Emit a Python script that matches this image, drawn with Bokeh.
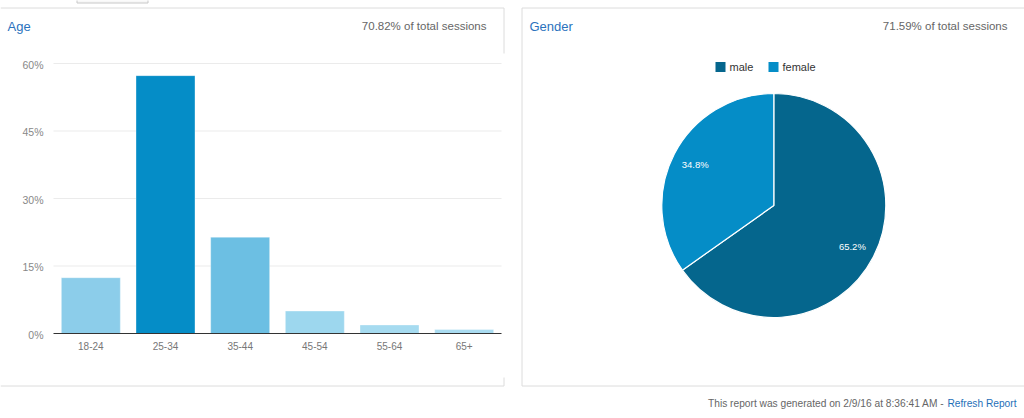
import numpy as np
from bokeh.plotting import figure
from bokeh.models import Range1d, ColumnDataSource
from bokeh.core.properties import value
from bokeh.embed import file_html
from bokeh.resources import INLINE

# ---------------- data ----------------
age_groups = ["18-24", "25-34", "35-44", "45-54", "55-64", "65+"]
age_share = [12.4, 57.3, 21.4, 5.0, 1.9, 0.9]
age_colors = ["#8ccdea", "#058dc7", "#6cbfe3", "#9dd7ee", "#a6dbf0", "#aadcf1"]
age_ticks = [0, 15, 30, 45, 60]
age_tick_labels = ["0%", "15%", "30%", "45%", "60%"]

gender_groups = ["male", "female"]
gender_share = [65.2, 34.8]
gender_labels = ["65.2%", "34.8%"]
gender_colors = ["#05668d", "#058dc7"]

age_title = "Age"
gender_title = "Gender"
age_sessions = "70.82% of total sessions"
gender_sessions = "71.59% of total sessions"
footer_text = "This report was generated on 2/9/16 at 8:36:41 AM - "
footer_link = "Refresh Report"

# ---------------- canvas ----------------
W, H = 1024, 418
FONT = value("Liberation Sans")

p = figure(width=W, height=H, x_range=Range1d(0, W), y_range=Range1d(H, 0),
           min_border=0, toolbar_location=None, output_backend="svg",
           x_axis_location=None, y_axis_location=None)
p.grid.visible = False
p.outline_line_color = None
p.background_fill_color = "white"
p.border_fill_color = "white"

# plot-area geometry of the age chart (pixels)
A_LEFT, A_RIGHT, A_Y0, A_Y60 = 53, 501, 333, 63
k = (A_Y0 - A_Y60) / 60.0
band = (A_RIGHT - A_LEFT) / len(age_groups)
p.extra_y_ranges = {"pct": Range1d(-(H - A_Y0) / k, A_Y0 / k)}
p.extra_x_ranges = {"age": Range1d(-A_LEFT / band - 0.5, (W - A_LEFT) / band - 0.5)}

# panel borders
border = "#dcdcdc"
p.segment(x0=[0, 503.5, 503.5, 0, 521.5, 521.5, 521.5],
          y0=[7.5, 7.5, 377, 385.5, 7.5, 7.5, 385.5],
          x1=[503.5, 503.5, 503.5, 503.5, 1024, 521.5, 1024],
          y1=[7.5, 53, 385.5, 385.5, 7.5, 385.5, 385.5],
          line_color=border, line_width=1)
# fragment of a button at the top
p.quad(left=76.5, right=147.5, top=-6, bottom=2.5, fill_color="#f7f7f7",
       line_color="#c8c8c8", line_width=1)

# titles
title_color = "#2b72bd"
p.text(x=[7, 529], y=[26, 26], text=[age_title, gender_title],
       text_font=FONT, text_font_size="13px", text_color=title_color,
       text_baseline="alphabetic", text_align="left")
p.text(x=[486, 1007], y=[25, 25], text=[age_sessions, gender_sessions],
       text_font=FONT, text_font_size="11.5px", text_color="#666666",
       text_baseline="alphabetic", text_align="right")

# ---------------- age bar chart ----------------
idx = list(range(len(age_groups)))
src = ColumnDataSource(dict(i=idx, share=age_share, color=age_colors, label=age_groups))

p.segment(x0=A_LEFT, x1=A_RIGHT, y0=age_ticks[1:], y1=age_ticks[1:],
          y_range_name="pct", line_color="#ebebeb", line_width=1)
p.vbar(x="i", top="share", bottom=0, width=0.79, fill_color="color",
       line_color="white", line_alpha=0.35, line_width=1,
       source=src, x_range_name="age", y_range_name="pct")
p.segment(x0=A_LEFT, x1=A_RIGHT, y0=[0], y1=[0], y_range_name="pct",
          line_color="#333333", line_width=1)
p.text(x=43, y=age_ticks, text=age_tick_labels, y_range_name="pct",
       text_font=FONT, text_font_size="10.5px", text_color="#888888",
       text_align="right", text_baseline="middle", y_offset=1)
p.text(x="i", y=345.5, text="label", source=src, x_range_name="age",
       text_font=FONT, text_font_size="10px", text_color="#777777",
       text_align="center", text_baseline="middle")

# ---------------- gender pie ----------------
CX, CY, R = 773.3, 205, 112
share = np.array(gender_share, dtype=float)
cum = np.cumsum(share) / share.sum()
prev = np.concatenate([[0.0], cum[:-1]])
start = np.pi / 2 - 2 * np.pi * prev
end = np.pi / 2 - 2 * np.pi * cum
p.wedge(x=CX, y=CY, radius=R, start_angle=start, end_angle=end,
        direction="clock", fill_color=gender_colors, line_color="white",
        line_width=1.2)
mid = (start + end) / 2
p.text(x=CX + 0.79 * R * np.cos(mid), y=CY - 0.79 * R * np.sin(mid),
       text=gender_labels, text_font=FONT, text_font_size="9.5px",
       text_color="white", text_align="center", text_baseline="middle")

# legend
p.rect(x=[720, 773], y=[66.5, 66.5], width=10, height=10,
       fill_color=gender_colors, line_color=None)
p.text(x=[729, 782], y=[66.5, 66.5], text=gender_groups, text_font=FONT,
       text_font_size="11px", text_color="#333333", text_align="left",
       text_baseline="middle")

# footer
p.text(x=[1016], y=[402.5], text=[footer_link], text_font=FONT,
       text_font_size="10.2px", text_color="#1f6fb8", text_align="right",
       text_baseline="middle")
p.text(x=[1016 - 69.5], y=[402.5], text=[footer_text], text_font=FONT,
       text_font_size="10.2px", text_color="#666666", text_align="right",
       text_baseline="middle")

open("out.html", "w").write(file_html(p, INLINE))
